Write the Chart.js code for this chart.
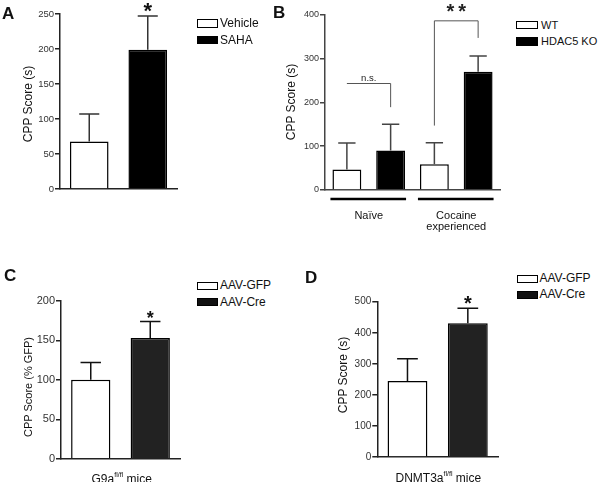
<!DOCTYPE html>
<html>
<head>
<meta charset="utf-8">
<script src="https://cdn.jsdelivr.net/npm/chart.js@4/dist/chart.umd.min.js"></script>
<style>
  body { margin: 0; background: #fff; }
  #fig { position: relative; width: 600px; height: 482px; overflow: hidden;
         font-family: "Liberation Sans", Arial, sans-serif; color: #111; }
  #fig canvas { position: absolute; }
  .t { position: absolute; white-space: nowrap; }
  .letter { font-weight: bold; font-size: 17px; line-height: 17px; }
  .ytitle { transform: translate(-50%, -50%) rotate(-90deg); }
  .xlab { transform: translate(-50%, -50%); font-size: 12px; line-height: 12px; }
  .xlab sup { font-size: 7px; vertical-align: 6px; }
  .box { position: absolute; border: 1px solid #000; box-sizing: border-box; }
</style>
</head>
<body>
<div id="fig">
  <canvas id="chartA" width="190" height="240" style="left:0;top:0"></canvas>
  <canvas id="chartB" width="240" height="240" style="left:270px;top:0"></canvas>
  <canvas id="chartC" width="195" height="242" style="left:0;top:240px"></canvas>
  <canvas id="chartD" width="220" height="242" style="left:290px;top:240px"></canvas>

  <!-- A -->
  <div class="t letter" style="left:2px;top:5px">A</div>
  <div class="t ytitle" style="left:28px;top:104px;font-size:12px">CPP Score (s)</div>
  <div class="box" style="left:197px;top:19px;width:21px;height:9px;background:#fff"></div>
  <div class="box" style="left:197px;top:36px;width:21px;height:8px;background:#000"></div>
  <div class="t" style="left:220px;top:17.3px;font-size:12px;line-height:12px">Vehicle</div>
  <div class="t" style="left:220px;top:34px;font-size:12px;line-height:12px">SAHA</div>

  <!-- B -->
  <div class="t letter" style="left:273px;top:4.2px">B</div>
  <div class="t ytitle" style="left:291px;top:101.7px;font-size:12px">CPP Score (s)</div>
  <div class="box" style="left:516px;top:21px;width:22px;height:8px;background:#fff"></div>
  <div class="box" style="left:516px;top:37px;width:22px;height:9px;background:#000"></div>
  <div class="t" style="left:541px;top:19.5px;font-size:11px;line-height:11px">WT</div>
  <div class="t" style="left:541px;top:36.2px;font-size:11px;line-height:11px">HDAC5 KO</div>

  <!-- C -->
  <div class="t letter" style="left:4px;top:266.7px">C</div>
  <div class="t ytitle" style="left:28px;top:386.7px;font-size:11px">CPP Score (% GFP)</div>
  <div class="box" style="left:197px;top:282px;width:21px;height:8px;background:#fff"></div>
  <div class="box" style="left:197px;top:298px;width:21px;height:8px;background:#111"></div>
  <div class="t" style="left:220px;top:279px;font-size:12px;line-height:12px">AAV-GFP</div>
  <div class="t" style="left:220px;top:295.7px;font-size:12px;line-height:12px">AAV-Cre</div>
  <div class="t xlab" style="left:121.7px;top:477px">G9a<sup>fl/fl</sup> mice</div>

  <!-- D -->
  <div class="t letter" style="left:305px;top:269.2px">D</div>
  <div class="t ytitle" style="left:343px;top:374.7px;font-size:12px">CPP Score (s)</div>
  <div class="box" style="left:517px;top:274.5px;width:21px;height:8px;background:#fff"></div>
  <div class="box" style="left:517px;top:290.5px;width:21px;height:8px;background:#111"></div>
  <div class="t" style="left:539.5px;top:272.3px;font-size:12px;line-height:12px">AAV-GFP</div>
  <div class="t" style="left:539.5px;top:288.3px;font-size:12px;line-height:12px">AAV-Cre</div>
  <div class="t xlab" style="left:438.3px;top:476px">DNMT3a<sup>fl/fl</sup> mice</div>
</div>

<script>
/* ===== DATA ===== */
// A: vehicle vs SAHA
const groupsA = ["Vehicle", "SAHA"];
const meanA = [68, 199];
const errA = [107, 247];
const starsA = ["", "*"];
const ticksA = [0, 50, 100, 150, 200, 250];

// B: WT vs HDAC5 KO, naive / cocaine experienced
const phasesB = ["Naïve", ["Cocaine", "experienced"]];
const genotypesB = ["WT", "HDAC5 KO"];
const meanWT = [47, 59];
const meanKO = [90, 270];
const errWT = [107, 108];
const errKO = [150, 306];
const ticksB = [0, 100, 200, 300, 400];
// bracket: level of the bar, end of left / right leg (same as level = no leg)
const bracketsB = [
  { label: "n.s.", cat: 0, level: 243, legs: [243, 189] },
  { label: "**", cat: 1, level: 386, legs: [147, 347] },
];

// C: G9a fl/fl mice
const groupsC = ["AAV-GFP", "AAV-Cre"];
const meanC = [100, 153];
const errC = [122, 174];
const starsC = ["", "*"];
const ticksC = [0, 50, 100, 150, 200];

// D: DNMT3a fl/fl mice
const groupsD = ["AAV-GFP", "AAV-Cre"];
const meanD = [245, 431];
const errD = [316, 479];
const starsD = ["", "*"];
const ticksD = [0, 100, 200, 300, 400, 500];

const FONT = "'Liberation Sans', Arial, sans-serif";

/* ===== ERROR BARS, STARS, BRACKETS ===== */
const marksPlugin = {
  id: "marks",
  afterDatasetsDraw(chart, args, o) {
    const { ctx, scales: { y } } = chart;
    ctx.save();
    ctx.lineWidth = 1.5;
    chart.data.datasets.forEach((ds, di) => {
      const meta = chart.getDatasetMeta(di);
      meta.data.forEach((bar, i) => {
        const top = y.getPixelForValue(ds.err[i]);
        const half = bar.width * o.cap;
        ctx.strokeStyle = o.errColor;
        ctx.beginPath();
        ctx.moveTo(bar.x, bar.y);
        ctx.lineTo(bar.x, top);
        ctx.moveTo(bar.x - half, top);
        ctx.lineTo(bar.x + half, top);
        ctx.stroke();
        if (ds.stars && ds.stars[i]) {
          ctx.fillStyle = "#111";
          ctx.font = `bold ${o.starSize}px ${FONT}`;
          ctx.textAlign = "center";
          ctx.textBaseline = "alphabetic";
          ctx.fillText(ds.stars[i], bar.x, top + o.starShift);
        }
      });
    });

    if (o.brackets) {
      const m0 = chart.getDatasetMeta(0), m1 = chart.getDatasetMeta(1);
      ctx.strokeStyle = "#555";
      ctx.lineWidth = 1;
      o.brackets.forEach(b => {
        const x0 = m0.data[b.cat].x, x1 = m1.data[b.cat].x;
        const yl = y.getPixelForValue(b.level);
        ctx.beginPath();
        ctx.moveTo(x0, y.getPixelForValue(b.legs[0]));
        ctx.lineTo(x0, yl);
        ctx.lineTo(x1, yl);
        ctx.lineTo(x1, y.getPixelForValue(b.legs[1]));
        ctx.stroke();
        ctx.fillStyle = "#222";
        ctx.textAlign = "center";
        ctx.textBaseline = "alphabetic";
        if (b.label === "**") {
          ctx.font = `bold 20px ${FONT}`;
          ctx.letterSpacing = "4px";
          ctx.fillText(b.label, (x0 + x1) / 2 + 2, yl - 3);
          ctx.letterSpacing = "0px";
        } else {
          ctx.font = `9.5px ${FONT}`;
          ctx.fillText(b.label, (x0 + x1) / 2, yl - 3);
        }
      });

      // group underlines
      ctx.strokeStyle = "#000";
      ctx.lineWidth = 2.5;
      m0.data.forEach((b0, i) => {
        const b1 = m1.data[i];
        ctx.beginPath();
        ctx.moveTo(b0.x - b0.width / 2 - 2, chart.chartArea.bottom + 9);
        ctx.lineTo(b1.x + b1.width / 2 + 1, chart.chartArea.bottom + 9);
        ctx.stroke();
      });
    }
    ctx.restore();
  },
};

/* ===== PANEL BUILDER ===== */
function panelChart(id, p) {
  return new Chart(document.getElementById(id), {
    type: "bar",
    data: { labels: p.labels, datasets: p.datasets },
    options: {
      responsive: false,
      animation: false,
      events: [],
      layout: { padding: { top: p.top, right: p.right, left: 0, bottom: 0 } },
      datasets: { bar: { categoryPercentage: 1, barPercentage: 0.66, borderColor: "#000", borderWidth: 1.5 } },
      plugins: {
        legend: { display: false },
        tooltip: { enabled: false },
        marks: p.marks,
      },
      scales: {
        x: {
          grid: { display: false, drawTicks: false },
          border: { color: p.axis, width: 1.5 },
          ticks: p.xTicks || { display: false },
          afterFit: s => { s.height = p.xHeight; },
        },
        y: {
          min: p.ticks[0],
          max: p.ticks[p.ticks.length - 1],
          ticks: {
            stepSize: p.ticks[1] - p.ticks[0],
            color: "#333",
            padding: 1,
            font: { family: FONT, size: p.tickSize },
          },
          grid: { drawOnChartArea: false, drawTicks: true, tickLength: 5, color: p.axis, lineWidth: 1.5 },
          border: { color: p.axis, width: 1.5 },
          afterFit: s => { s.width = p.yWidth; },
        },
      },
    },
    plugins: [marksPlugin],
  });
}

function pairSets(groups, means, errs, stars, fills) {
  return groups.map((g, i) => ({
    label: g,
    data: [means[i]],
    err: [errs[i]],
    stars: [stars[i]],
    backgroundColor: fills[i],
  }));
}

/* ===== A ===== */
panelChart("chartA", {
  labels: [""],
  datasets: pairSets(groupsA, meanA, errA, starsA, ["#fff", "#000"]),
  ticks: ticksA, tickSize: 9.5, axis: "#222",
  yWidth: 60, top: 14, right: 13, xHeight: 51,
  marks: { cap: 0.26, errColor: "#333", starSize: 22, starShift: 2 },
});

/* ===== B ===== */
panelChart("chartB", {
  labels: phasesB,
  datasets: [
    { label: genotypesB[0], data: meanWT, err: errWT, backgroundColor: "#fff" },
    { label: genotypesB[1], data: meanKO, err: errKO, backgroundColor: "#000" },
  ],
  ticks: ticksB, tickSize: 9, axis: "#444",
  yWidth: 55, top: 14.7, right: 10, xHeight: 50,
  xTicks: { color: "#111", padding: 20, font: { family: FONT, size: 11, lineHeight: 1.05 } },
  marks: { cap: 0.3, errColor: "#444", brackets: bracketsB },
});

/* ===== C ===== */
panelChart("chartC", {
  labels: [""],
  datasets: pairSets(groupsC, meanC, errC, starsC, ["#fff", "#222"]),
  ticks: ticksC, tickSize: 11, axis: "#222",
  yWidth: 61, top: 61, right: 15, xHeight: 23.3,
  marks: { cap: 0.26, errColor: "#111", starSize: 18, starShift: 2.4 },
});

/* ===== D ===== */
panelChart("chartD", {
  labels: [""],
  datasets: pairSets(groupsD, meanD, errD, starsD, ["#fff", "#222"]),
  ticks: ticksD, tickSize: 10, axis: "#222",
  yWidth: 87.3, top: 61.7, right: 12, xHeight: 25,
  marks: { cap: 0.26, errColor: "#111", starSize: 20, starShift: 1.5 },
});
</script>
</body>
</html>
